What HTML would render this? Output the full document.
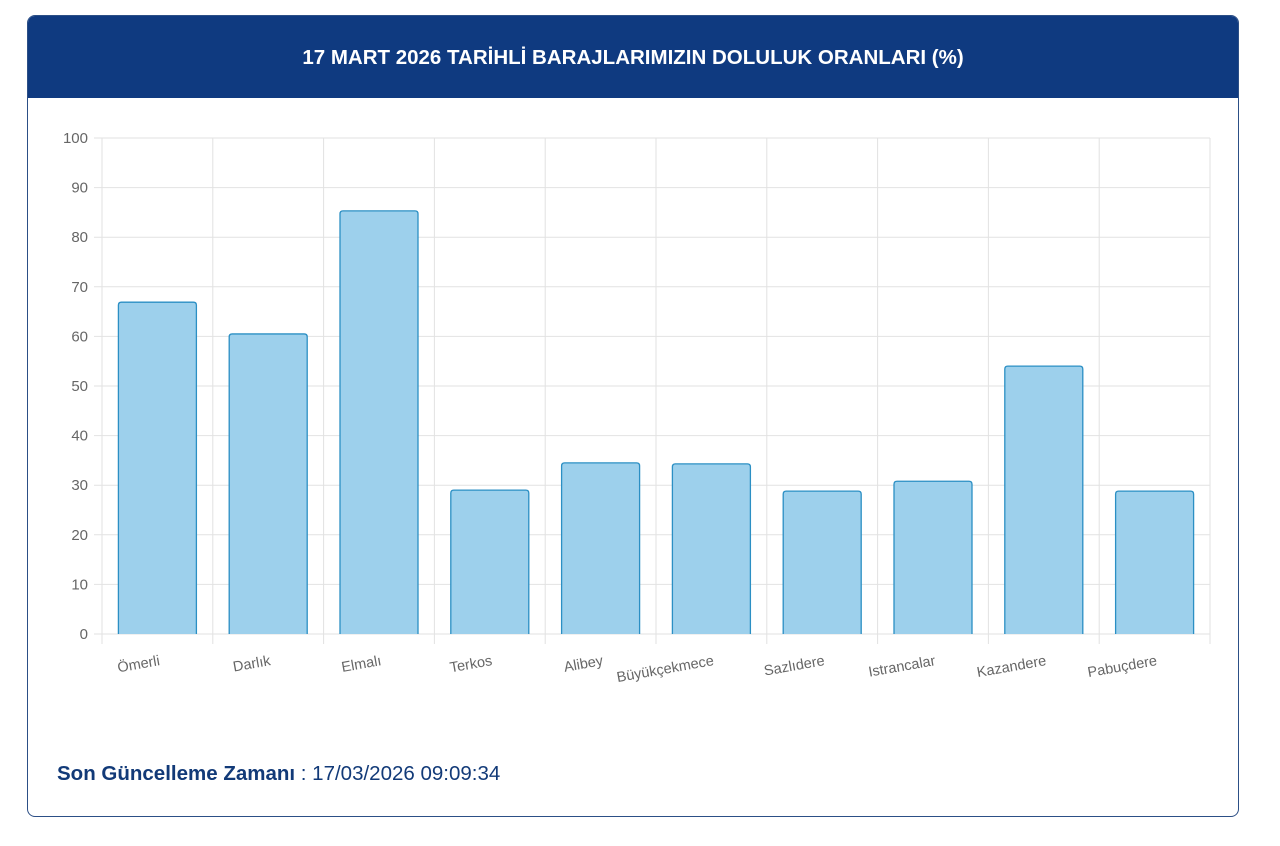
<!DOCTYPE html>
<html><head><meta charset="utf-8"><style>
body{margin:0;background:#fff;width:1280px;height:846px;overflow:hidden;font-family:"Liberation Sans",sans-serif}
.card{position:absolute;left:27px;top:15px;width:1210px;height:800px;border:1px solid #2c4f86;border-radius:8px;overflow:hidden;background:#fff}
.hdr{height:82px;background:#0f3a80;color:#fff;font-weight:bold;font-size:20.5px;text-align:center;line-height:84px}
.foot{position:absolute;left:29px;top:746px;font-size:20.5px;color:#123a78}
</style></head><body>
<div class="card"><div class="hdr">17 MART 2026 TARİHLİ BARAJLARIMIZIN DOLULUK ORANLARI (%)</div>
<div class="foot"><b>Son Güncelleme Zamanı</b> : 17/03/2026 09:09:34</div></div>
<svg width="1280" height="846" style="position:absolute;left:0;top:0" font-family="Liberation Sans, sans-serif">
<g id="g"></g>
</svg>
<script>
var g=document.getElementById('g'),s='';
var x0=102,x1=1210,y0=634,py=4.96,cw=(x1-x0)/10;
for(var i=0;i<=10;i++){var y=y0-i*10*py;s+='<line x1="94" x2="'+x1+'" y1="'+y+'" y2="'+y+'" stroke="#e2e2e2"/>';
s+='<text x="88" y="'+(y+5)+'" text-anchor="end" font-size="15" fill="#666">'+(i*10)+'</text>';}
for(var i=0;i<=10;i++){var x=x0+i*cw;s+='<line x1="'+x+'" x2="'+x+'" y1="138" y2="644" stroke="#e2e2e2"/>';}
var n=['Ömerli','Darlık','Elmalı','Terkos','Alibey','Büyükçekmece','Sazlıdere','Istrancalar','Kazandere','Pabuçdere'];
var v=[66.9,60.5,85.3,29.0,34.5,34.3,28.8,30.8,54.0,28.8];
for(var i=0;i<10;i++){var cx=x0+cw*(i+.5),h=v[i]*py,bx=cx-39;
s+='<path d="M'+bx+' '+y0+'V'+(y0-h+3)+'q0-3 3-3h72q3 0 3 3V'+y0+'" fill="#9dd0ec" stroke="#2b8fc4" stroke-width="1.3"/>';
s+='<text transform="translate('+(cx+3)+',665) rotate(-10)" text-anchor="end" font-size="14.5" fill="#666">'+n[i]+'</text>';}
g.innerHTML=s;
</script>
</body></html>
